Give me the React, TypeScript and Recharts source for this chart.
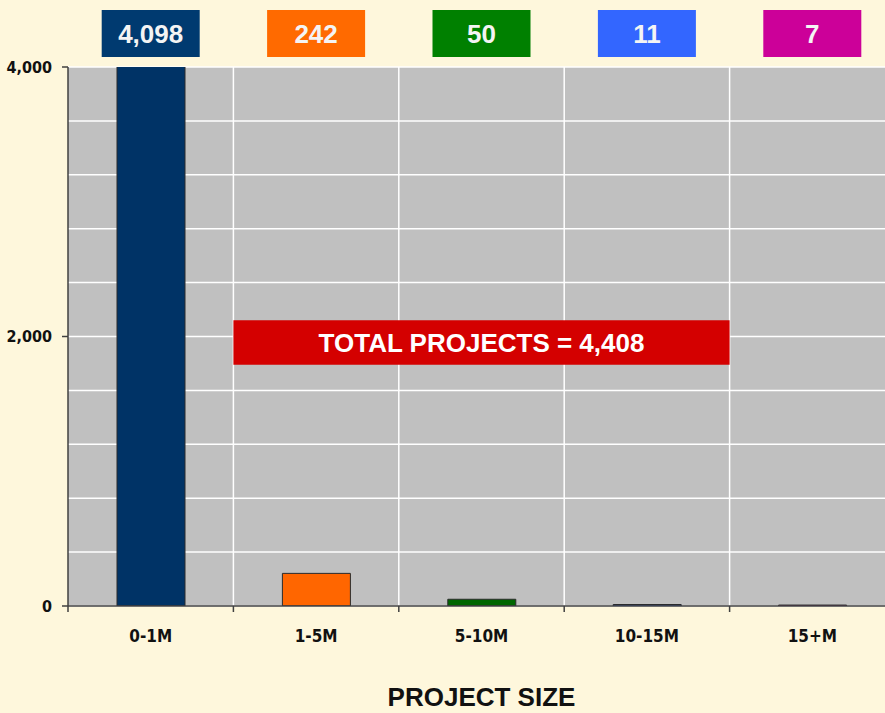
import { BarChart, Bar, XAxis, YAxis, CartesianGrid, Cell, ReferenceArea } from 'recharts';

const categories = ['0-1M', '1-5M', '5-10M', '10-15M', '15+M'];
const projects = [4098, 242, 50, 11, 7];
const barColors = ['#003366', '#ff6600', '#006600', '#3366ff', '#cc0099'];
const boxColors = ['#003a70', '#ff6a00', '#008000', '#3366ff', '#cc0099'];
const yTicks = [0, 2000, 4000];
const gridTicks = [0, 400, 800, 1200, 1600, 2000, 2400, 2800, 3200, 3600, 4000];
const boundaryTicks = [1, 2, 3, 4];

const data = categories.map((size, i) => ({ size, projects: projects[i] }));
const total = projects.reduce((a, b) => a + b, 0);

const condensed = "'DejaVu Sans Condensed', 'Liberation Sans Narrow', 'DejaVu Sans', sans-serif";
const arial = "'Liberation Sans', Arial, sans-serif";

const ValueBox = (props: any) => {
  const { x, y, index } = props;
  return (
    <g>
      <rect x={x - 49} y={y - 57} width={98} height={47} fill={boxColors[index]} />
      <text
        x={x}
        y={y - 33}
        textAnchor="middle"
        dominantBaseline="central"
        fill="#f4f4f4"
        fontFamily={arial}
        fontWeight="bold"
        fontSize={26}
      >
        {projects[index].toLocaleString('en-US')}
      </text>
    </g>
  );
};

const SizeTick = (props: any) => {
  const { x, y, payload } = props;
  const off = payload && typeof payload.offset === 'number' ? payload.offset : 0;
  return (
    <g>
      {off > 0 && <line x1={x - off} y1={y} x2={x - off} y2={y + 6} stroke="#404040" strokeWidth={1.5} />}
      <text x={x} y={y + 36} textAnchor="middle" fill="#111" fontFamily={condensed} fontWeight="bold" fontSize={17}>
        {payload.value}
      </text>
    </g>
  );
};

// vertical grid lines sit on the category boundaries, not the centres
const boundaryLines = ({ offset }: any) =>
  boundaryTicks.map((i) => offset.left + (i * offset.width) / categories.length);

export default function App() {
  return (
    <div
      style={{
        position: 'absolute',
        left: 0,
        top: 0,
        width: 885,
        height: 713,
        overflow: 'hidden',
        background: '#fef7dc',
      }}
    >
      <BarChart width={900} height={713} data={data} margin={{ top: 0, right: 5, left: 0, bottom: 0 }}>
        <CartesianGrid
          yAxisId="grid"
          verticalCoordinatesGenerator={boundaryLines}
          fill="#c0c0c0"
          fillOpacity={1}
          stroke="#ffffff"
          strokeWidth={1.5}
        />
        <XAxis
          xAxisId="top"
          dataKey="size"
          orientation="top"
          height={67}
          axisLine={false}
          tickLine={false}
          tickSize={0}
          tickMargin={0}
          tick={<ValueBox />}
        />
        <XAxis
          dataKey="size"
          height={107}
          axisLine={{ stroke: '#404040', strokeWidth: 1.5 }}
          tickLine={false}
          tickSize={0}
          tickMargin={0}
          tick={<SizeTick />}
          label={{
            value: 'PROJECT SIZE',
            position: 'insideBottom',
            offset: 7,
            fill: '#111',
            fontFamily: arial,
            fontWeight: 'bold',
            fontSize: 26,
          }}
        />
        <YAxis
          width={68}
          domain={[0, 4000]}
          ticks={yTicks}
          allowDataOverflow
          axisLine={{ stroke: '#404040', strokeWidth: 1.5 }}
          tickLine={{ stroke: '#404040', strokeWidth: 1.5 }}
          tickSize={6}
          tickMargin={10}
          tickFormatter={(v: number) => v.toLocaleString('en-US')}
          tick={{ fill: '#111', fontFamily: condensed, fontWeight: 'bold', fontSize: 16 }}
        />
        <YAxis yAxisId="grid" domain={[0, 4000]} ticks={gridTicks} allowDataOverflow hide />
        <Bar dataKey="projects" barSize={68} stroke="#2a2a2a" strokeWidth={1} isAnimationActive={false}>
          {data.map((d, i) => (
            <Cell key={d.size} fill={barColors[i]} />
          ))}
        </Bar>
        <ReferenceArea
          x1="1-5M"
          x2="10-15M"
          y1={1790}
          y2={2120}
          fill="#d40000"
          fillOpacity={1}
          stroke="none"
          ifOverflow="visible"
          label={{
            value: `TOTAL PROJECTS = ${total.toLocaleString('en-US')}`,
            position: 'center',
            fill: '#ffffff',
            fontFamily: arial,
            fontWeight: 'bold',
            fontSize: 26,
          }}
        />
      </BarChart>
    </div>
  );
}
